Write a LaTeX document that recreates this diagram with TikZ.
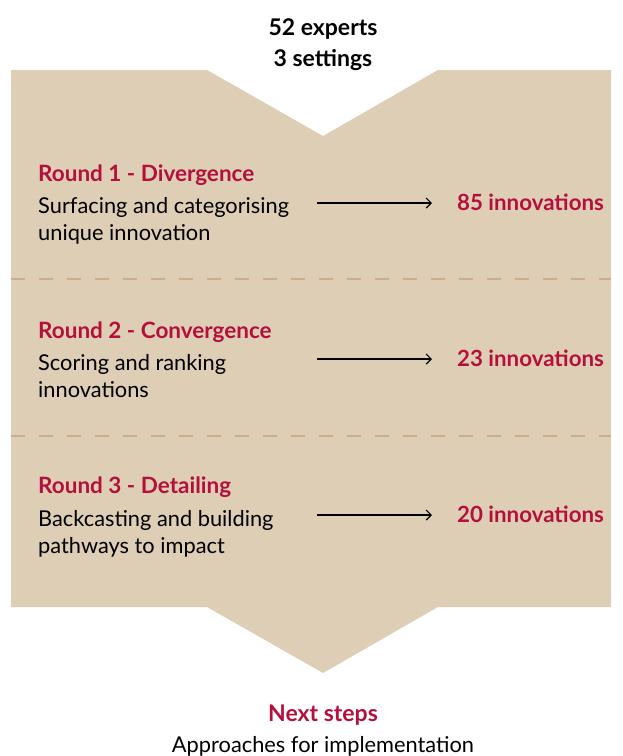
\documentclass[tikz,border=0pt]{standalone}
\usepackage{fontspec}
\setmainfont{Lato}
\usetikzlibrary{arrows.meta}
\definecolor{tan}{RGB}{221,206,181}
\definecolor{dashc}{RGB}{205,172,138}
\definecolor{crim}{RGB}{181,16,60}
\tikzset{
  title/.style={font=\bfseries\fontsize{22.5}{26}\selectfont, text=crim, anchor=west, inner sep=0pt},
  body/.style={font=\fontsize{21.8}{27}\selectfont, anchor=north west, align=left, inner sep=0pt},
  count/.style={font=\bfseries\fontsize{22.3}{26}\selectfont, text=crim, anchor=west, inner sep=0pt},
  head/.style={font=\bfseries\fontsize{23}{26}\selectfont, inner sep=0pt},
  flow/.style={-{Straight Barb[length=5pt,width=10pt]}, line width=1.2pt},
  sep/.style={dashc, line width=1.5pt, dash pattern=on 14pt off 14pt}
}
\begin{document}
\begin{tikzpicture}[x=1pt,y=-1pt]
\useasboundingbox (0,0) rectangle (622,756);
\fill[tan] (11,70) -- (207,70) -- (323,136) -- (438,70) -- (611,70) -- (611,607) -- (438,607) -- (323,673) -- (207,607) -- (11,607) -- cycle;
\draw[sep] (11,279) -- (611,279);
\draw[sep] (11,436) -- (611,436);
\node[head] (h1) at (323,29) {52 experts};
\node[head] (h2) at (323,60) {3 settings};
\node[title] (t1) at (38,175) {Round 1 - Divergence};
\node[body] (b1) at (38,197) {Surfacing and categorising\\unique innovation};
\coordinate (a1s) at (317,203);
\coordinate (a1e) at (432,203);
\node[count] (c1) at (457,202) {85 innovations};
\draw[flow] (a1s) -- (a1e);
\node[title] (t2) at (38,332) {Round 2 - Convergence};
\node[body] (b2) at (38,354) {Scoring and ranking\\innovations};
\coordinate (a2s) at (317,359);
\coordinate (a2e) at (432,359);
\node[count] (c2) at (457,358) {23 innovations};
\draw[flow] (a2s) -- (a2e);
\node[title] (t3) at (38,487) {Round 3 - Detailing};
\node[body] (b3) at (38,510) {Backcasting and building\\pathways to impact};
\coordinate (a3s) at (317,515);
\coordinate (a3e) at (432,515);
\node[count] (c3) at (457,514) {20 innovations};
\draw[flow] (a3s) -- (a3e);
\node[head, text=crim] (n1) at (323,715) {Next steps};
\node[font=\fontsize{21.8}{26}\selectfont, inner sep=0pt] (n2) at (323,746) {Approaches for implementation};
\end{tikzpicture}
\end{document}
